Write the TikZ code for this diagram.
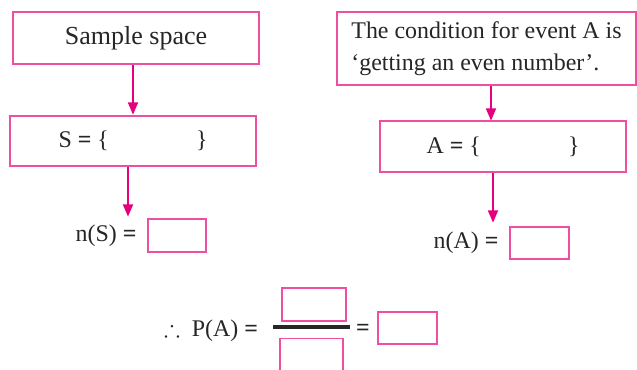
\documentclass[tikz,border=0pt]{standalone}
\usepackage{fontspec}
\usepackage{amssymb}
\setmainfont{Liberation Serif}
\usetikzlibrary{arrows.meta}
\definecolor{boxpink}{HTML}{EE4FA0}
\definecolor{arrowpink}{HTML}{E6007E}
\newcommand{\eqs}{\textbf{=}}

\begin{document}
\begin{tikzpicture}[x=0.025cm,y=-0.025cm,
  every node/.style={font=\fontsize{17}{22.5}\selectfont,text=black!85},
  pinkbox/.style={draw=boxpink,line width=1.4pt,inner sep=0pt},
  arr/.style={draw=arrowpink,line width=2.1pt,-{Triangle[length=9pt,width=6.8pt]}}]
\clip (0,0) rectangle (637,369);
% left column
\node[pinkbox,minimum width=6.15cm,minimum height=1.3cm,font=\fontsize{18.5}{22.5}\selectfont] (sample) at (136,38) {Sample space};
\node[pinkbox,minimum width=6.15cm,minimum height=1.25cm] (sset) at (133,141) {S \eqs{} \{\hspace{62pt}\}};
\node (ns) at (106,236) {n(S) \eqs};
\node[pinkbox,minimum width=1.45cm,minimum height=0.825cm] (nsbox) at (177,235.5) {};
\coordinate (nstop) at (128,217);
% right column
\node[pinkbox,minimum width=7.475cm,minimum height=1.825cm,align=left] (cond) at (486.5,48.5)
  {The condition for event A is\\‘getting an even number’.};
\node[pinkbox,minimum width=6.15cm,minimum height=1.275cm] (aset) at (503,146.5) {A \eqs{} \{\hspace{62pt}\}};
\node (na) at (466,243) {n(A) \eqs};
\node[pinkbox,minimum width=1.475cm,minimum height=0.8cm] (nabox) at (539.5,243) {};
\coordinate (atop) at (491,121);
\coordinate (natop) at (493,223);
% probability
\node (pa) at (211,331) {$\therefore$\ \ P(A) \eqs};
\node[pinkbox,minimum width=1.6cm,minimum height=0.825cm] (numbox) at (314,304.5) {};
\node[pinkbox,minimum width=1.575cm,minimum height=0.825cm] (denbox) at (311.5,355) {};
\coordinate (barl) at (273,327);
\coordinate (barr) at (350,327);
\node (eq) at (363,330) {\eqs};
\node[pinkbox,minimum width=1.475cm,minimum height=0.8cm] (resbox) at (407.5,328) {};
\draw[arr] (sample.south -| sset.north) -- (sset.north);
\draw[arr] (sset.south -| nstop) -- (nstop);
\draw[arr] (cond.south -| atop) -- (atop);
\draw[arr] (aset.south -| natop) -- (natop);
\draw[line width=2.4pt,black!85] (barl) -- (barr);
\end{tikzpicture}
\end{document}
